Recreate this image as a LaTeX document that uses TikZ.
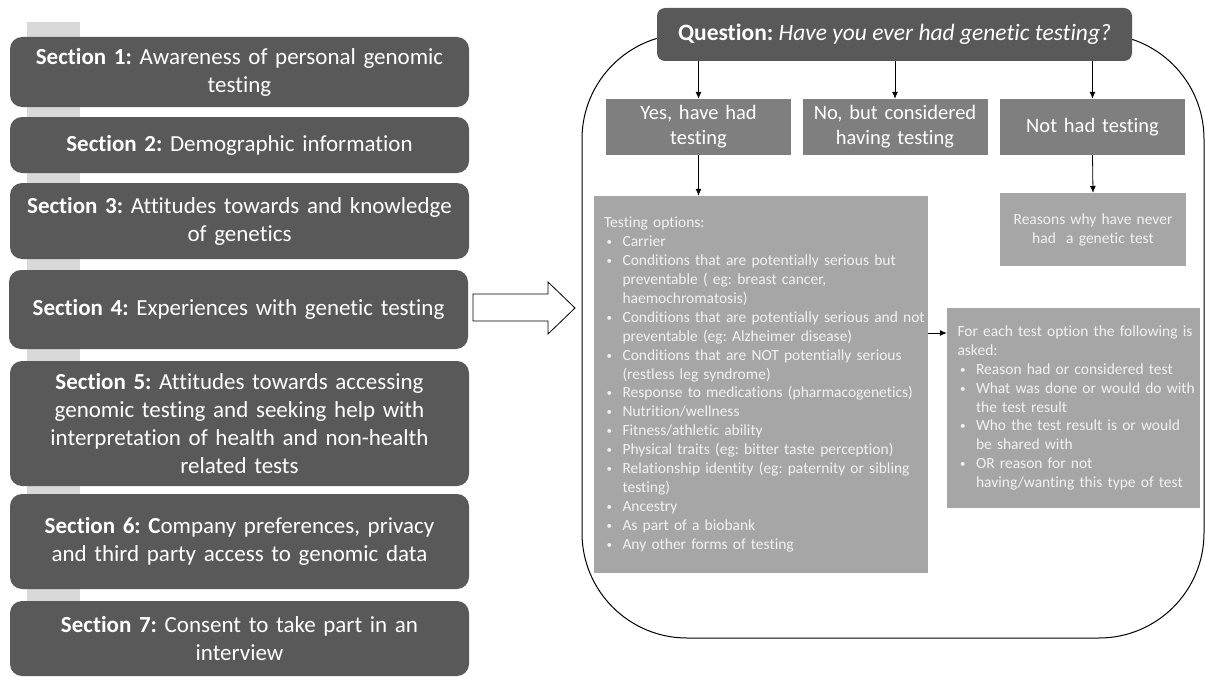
\documentclass[tikz,border=0pt]{standalone}
\usepackage{fontspec}
\setmainfont{Carlito}[Ligatures={NoCommon}]
\usetikzlibrary{arrows.meta}
\definecolor{dk}{HTML}{595959}
\definecolor{md}{HTML}{7F7F7F}
\definecolor{lt}{HTML}{A6A6A6}
\definecolor{barc}{HTML}{D9D9D9}
\definecolor{txt}{HTML}{F2F2F2}
\newcommand{\bitem}[1]{\par\noindent\hangindent=18.5pt\hangafter=1\makebox[18.5pt][l]{\hspace{2.5pt}\raisebox{1pt}{\fontsize{11}{11}\selectfont\textbullet}}#1}
\tikzset{
  secbox/.style={fill=dk, rounded corners=12pt, minimum width=459pt, text width=452pt, align=center, text=white, inner sep=0pt, font=\fontsize{23}{28}\selectfont},
  optbox/.style={fill=md, minimum width=185pt, minimum height=56pt, text width=182pt, align=center, text=white, inner sep=0pt, font=\fontsize{20.5}{25}\selectfont},
  infobox/.style={fill=lt, inner sep=0pt, text=txt, font=\fontsize{15.5}{18.9}\selectfont},
  arr/.style={-{Latex[length=7pt,width=6pt]}, line width=0.8pt},
}
\frenchspacing
\begin{document}
\frenchspacing
\begin{tikzpicture}[x=1pt,y=1pt]
\useasboundingbox (0,0) rectangle (1205,-677);
% background bar
\fill[barc] (27,-22) rectangle (80,-601);
% section boxes
\node[secbox, minimum height=70pt] (s1) at (239.5,-72) {\textbf{Section 1:} Awareness of personal genomic\\testing};
\node[secbox, minimum height=56pt] (s2) at (239.5,-145) {\textbf{Section 2:} Demographic information};
\node[secbox, minimum height=76pt] (s3) at (239.5,-221) {\textbf{Section 3:} Attitudes towards and knowledge\\of genetics};
\node[secbox, minimum height=79pt] (s4) at (238.5,-309.5) {\textbf{Section 4:} Experiences with genetic testing};
\node[secbox, minimum height=125pt] (s5) at (239.5,-423.5) {\textbf{Section 5:} Attitudes towards accessing\\genomic testing and seeking help with\\interpretation of health and non-health\\related tests};
\node[secbox, minimum height=95pt] (s6) at (239.5,-541.5) {\textbf{Section 6: C}ompany preferences, privacy\\and third party access to genomic data};
\node[secbox, minimum height=75pt] (s7) at (239.5,-638.5) {\textbf{Section 7:} Consent to take part in an\\interview};
% big hollow arrow
\draw[line width=0.8pt, fill=white] (473,-294) -- (548,-294) -- (548,-282) -- (575,-308) -- (548,-334) -- (548,-321) -- (473,-321) -- cycle;
% container
\draw[line width=1pt, rounded corners=105pt] (582,-34) rectangle (1204,-638);
% question
\node[fill=dk, rounded corners=8pt, minimum width=475pt, minimum height=53pt, inner sep=0pt, text=white, font=\fontsize{23.5}{27}\selectfont] (q) at (894.5,-34.5) {\textbf{Question:} \textit{Have you ever had genetic testing?}};
% options
\node[optbox] (yes) at (698.5,-127) {Yes, have had\\testing};
\node[optbox] (no) at (895,-127) {No, but considered\\having testing};
\node[optbox] (nothad) at (1092.5,-127) {Not had testing};
% info boxes
\node[infobox, minimum width=334pt, minimum height=377pt, text width=330pt, align=left] (testing) at (761,-384.5) {%
\leftskip=8pt
Testing options:
\bitem{Carrier}
\bitem{Conditions that are potentially serious but\newline preventable ( eg: breast cancer,\newline haemochromatosis)}
\bitem{Conditions that are potentially serious and not\newline preventable (eg: Alzheimer disease)}
\bitem{Conditions that are NOT potentially serious\newline (restless leg syndrome)}
\bitem{Response to medications (pharmacogenetics)}
\bitem{Nutrition/wellness}
\bitem{Fitness/athletic ability}
\bitem{Physical traits (eg: bitter taste perception)}
\bitem{Relationship identity (eg: paternity or sibling\newline testing)}
\bitem{Ancestry}
\bitem{As part of a biobank}
\bitem{Any other forms of testing}\par};
\node[infobox, minimum width=186pt, minimum height=73pt, text width=182pt, align=center] (reasons) at (1093,-229.5) {Reasons why have never\\had~ a genetic test};
\node[infobox, minimum width=253pt, minimum height=200pt, text width=252pt, align=left] (foreach) at (1073.5,-408) {%
\leftskip=10pt
For each test option the following is\newline asked:
\bitem{Reason had or considered test}
\bitem{What was done or would do with\newline the test result}
\bitem{Who the test result is or would\newline be shared with}
\bitem{OR reason for not\newline having/wanting this type of test}\par};
% connectors
\draw[arr] (yes.north |- q.south) -- (yes.north);
\draw[arr] (no.north |- q.south) -- (no.north);
\draw[arr] (nothad.north |- q.south) -- (nothad.north);
\draw[arr] (yes.south) -- (yes.south |- testing.north);
\draw[arr] (nothad.south) -- (reasons.north);
\coordinate (fy) at (0,-333);
\draw[arr] (testing.east |- fy) -- (foreach.west |- fy);
\end{tikzpicture}
\end{document}
